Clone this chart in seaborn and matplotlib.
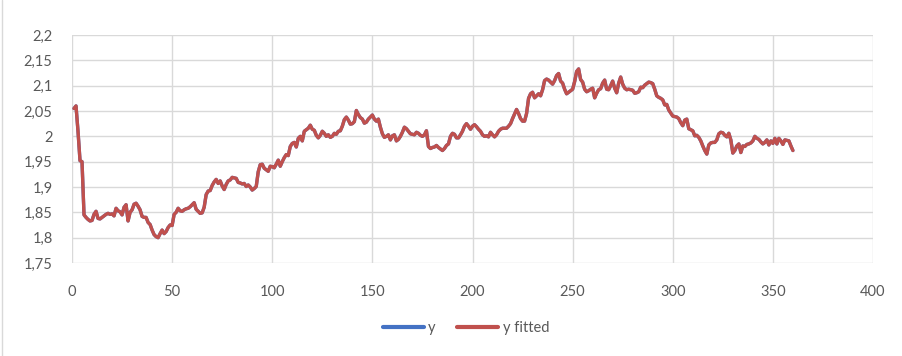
import numpy as np
import pandas as pd
import seaborn as sns
import matplotlib.pyplot as plt
from matplotlib.lines import Line2D
from matplotlib.ticker import FuncFormatter, MultipleLocator

# Observed series, one value per step (t = 1..360)
y_observed = [
    2.055, 2.060, 2.010, 1.952, 1.950, 1.845, 1.840, 1.836, 1.833, 1.834,
    1.846, 1.852, 1.838, 1.837, 1.840, 1.843, 1.846, 1.848, 1.846, 1.847,
    1.843, 1.858, 1.853, 1.851, 1.845, 1.860, 1.865, 1.833, 1.850, 1.855,
    1.866, 1.868, 1.862, 1.855, 1.842, 1.840, 1.840, 1.830, 1.826, 1.815,
    1.806, 1.802, 1.800, 1.808, 1.815, 1.808, 1.812, 1.820, 1.825, 1.824,
    1.846, 1.850, 1.858, 1.853, 1.852, 1.855, 1.857, 1.858, 1.861, 1.865,
    1.869, 1.856, 1.852, 1.848, 1.849, 1.860, 1.885, 1.892, 1.893, 1.903,
    1.910, 1.915, 1.907, 1.912, 1.902, 1.895, 1.905, 1.912, 1.914, 1.919,
    1.918, 1.917, 1.909, 1.908, 1.906, 1.907, 1.901, 1.904, 1.900, 1.894,
    1.897, 1.901, 1.930, 1.944, 1.945, 1.937, 1.934, 1.931, 1.941, 1.940,
    1.938, 1.945, 1.953, 1.941, 1.950, 1.958, 1.964, 1.962, 1.980, 1.986,
    1.988, 1.979, 1.996, 2.000, 1.991, 2.010, 2.013, 2.016, 2.022, 2.014,
    2.012, 2.002, 1.997, 2.002, 2.010, 2.006, 2.000, 2.003, 1.998, 2.000,
    2.006, 2.004, 2.010, 2.011, 2.020, 2.033, 2.038, 2.032, 2.024, 2.025,
    2.029, 2.051, 2.043, 2.037, 2.034, 2.026, 2.028, 2.034, 2.038, 2.042,
    2.034, 2.030, 2.034, 2.018, 2.005, 1.998, 2.000, 2.003, 1.993, 2.001,
    2.003, 1.991, 1.994, 2.000, 2.008, 2.018, 2.015, 2.010, 2.005, 2.004,
    2.003, 2.008, 2.006, 2.002, 2.000, 2.003, 2.011, 1.980, 1.976, 1.978,
    1.979, 1.982, 1.978, 1.975, 1.972, 1.976, 1.982, 1.985, 2.000, 2.006,
    2.004, 1.997, 1.997, 2.003, 2.010, 2.020, 2.025, 2.020, 2.014, 2.020,
    2.023, 2.019, 2.014, 2.010, 2.003, 2.000, 2.001, 1.999, 2.008, 2.003,
    1.999, 2.003, 2.010, 2.014, 2.016, 2.016, 2.016, 2.020, 2.025, 2.035,
    2.044, 2.053, 2.045, 2.035, 2.030, 2.030, 2.045, 2.075, 2.084, 2.087,
    2.076, 2.080, 2.084, 2.080, 2.092, 2.110, 2.113, 2.111, 2.107, 2.103,
    2.110, 2.120, 2.124, 2.109, 2.105, 2.093, 2.084, 2.087, 2.090, 2.093,
    2.108, 2.128, 2.133, 2.112, 2.107, 2.093, 2.088, 2.090, 2.093, 2.095,
    2.076, 2.085, 2.092, 2.094, 2.105, 2.111, 2.093, 2.092, 2.100, 2.109,
    2.095, 2.086, 2.105, 2.117, 2.103, 2.095, 2.092, 2.093, 2.092, 2.091,
    2.085, 2.086, 2.088, 2.097, 2.096, 2.101, 2.104, 2.107, 2.106, 2.104,
    2.093, 2.080, 2.077, 2.075, 2.072, 2.062, 2.063, 2.052, 2.046, 2.040,
    2.039, 2.038, 2.035, 2.027, 2.021, 2.032, 2.034, 2.015, 2.013, 2.011,
    2.001, 2.002, 1.998, 1.991, 1.981, 1.972, 1.965, 1.983, 1.987, 1.988,
    1.988, 1.993, 2.005, 2.008, 2.007, 2.002, 1.999, 2.006, 1.993, 1.967,
    1.972, 1.981, 1.985, 1.968, 1.981, 1.980, 1.984, 1.985, 1.987, 1.991,
    2.000, 1.996, 1.994, 1.989, 1.985, 1.988, 1.993, 1.983, 1.991, 1.986,
    1.996, 1.985, 1.996, 1.991, 1.984, 1.993, 1.992, 1.991, 1.981, 1.972,
]
# The fitted series coincides with the observations at this scale
y_fitted = list(y_observed)
t = list(range(1, len(y_observed) + 1))

series_names = ["y", "y fitted"]
series_colors = ["#4472C4", "#C0504D"]
x_ticks = [0, 50, 100, 150, 200, 250, 300, 350, 400]
y_limits = (1.75, 2.2)

df = pd.concat([
    pd.DataFrame({"t": t, "value": y_observed, "series": series_names[0]}),
    pd.DataFrame({"t": t, "value": y_fitted, "series": series_names[1]}),
])

sns.set_theme(style="white")
plt.rcParams["font.family"] = ["Lato", "DejaVu Sans"]

fig = plt.figure(figsize=(9.03, 3.56), dpi=100)
ax = fig.add_axes([72 / 903, 1 - 263 / 356, 801 / 903, 228 / 356])

sns.lineplot(data=df, x="t", y="value", hue="series",
             palette=dict(zip(series_names, series_colors)),
             linewidth=2.4, ax=ax, legend=False, sort=False)

ax.set_xlim(x_ticks[0], x_ticks[-1])
ax.set_ylim(*y_limits)
ax.set_xticks(x_ticks)
ax.yaxis.set_major_locator(MultipleLocator(0.05))

def comma_fmt(v, pos):
    s = f"{v:.2f}".rstrip("0").rstrip(".")
    return s.replace(".", ",")

ax.yaxis.set_major_formatter(FuncFormatter(comma_fmt))
ax.set_xlabel("")
ax.set_ylabel("")

ax.grid(True, color="#d9d9d9", linewidth=1.0)
ax.set_axisbelow(True)
for side in ["top", "right", "bottom", "left"]:
    ax.spines[side].set_visible(False)

ax.tick_params(axis="both", length=0, labelsize=10.5, colors="#595959")
ax.tick_params(axis="y", pad=14)
ax.tick_params(axis="x", pad=16)

handles = [Line2D([], [], color=c, linewidth=3) for c in series_colors]
fig.legend(handles, series_names, loc="center", bbox_to_anchor=(466 / 903, 1 - 328 / 356),
           ncol=2, frameon=False, fontsize=10.5, handlelength=2.8,
           handletextpad=0.3, columnspacing=1.5, labelcolor="#595959")

# chart area border
fig.add_artist(Line2D([2 / 903, 2 / 903], [0, 1], transform=fig.transFigure,
                      color="#d9d9d9", linewidth=1))

fig.savefig("out.png", dpi=100)
